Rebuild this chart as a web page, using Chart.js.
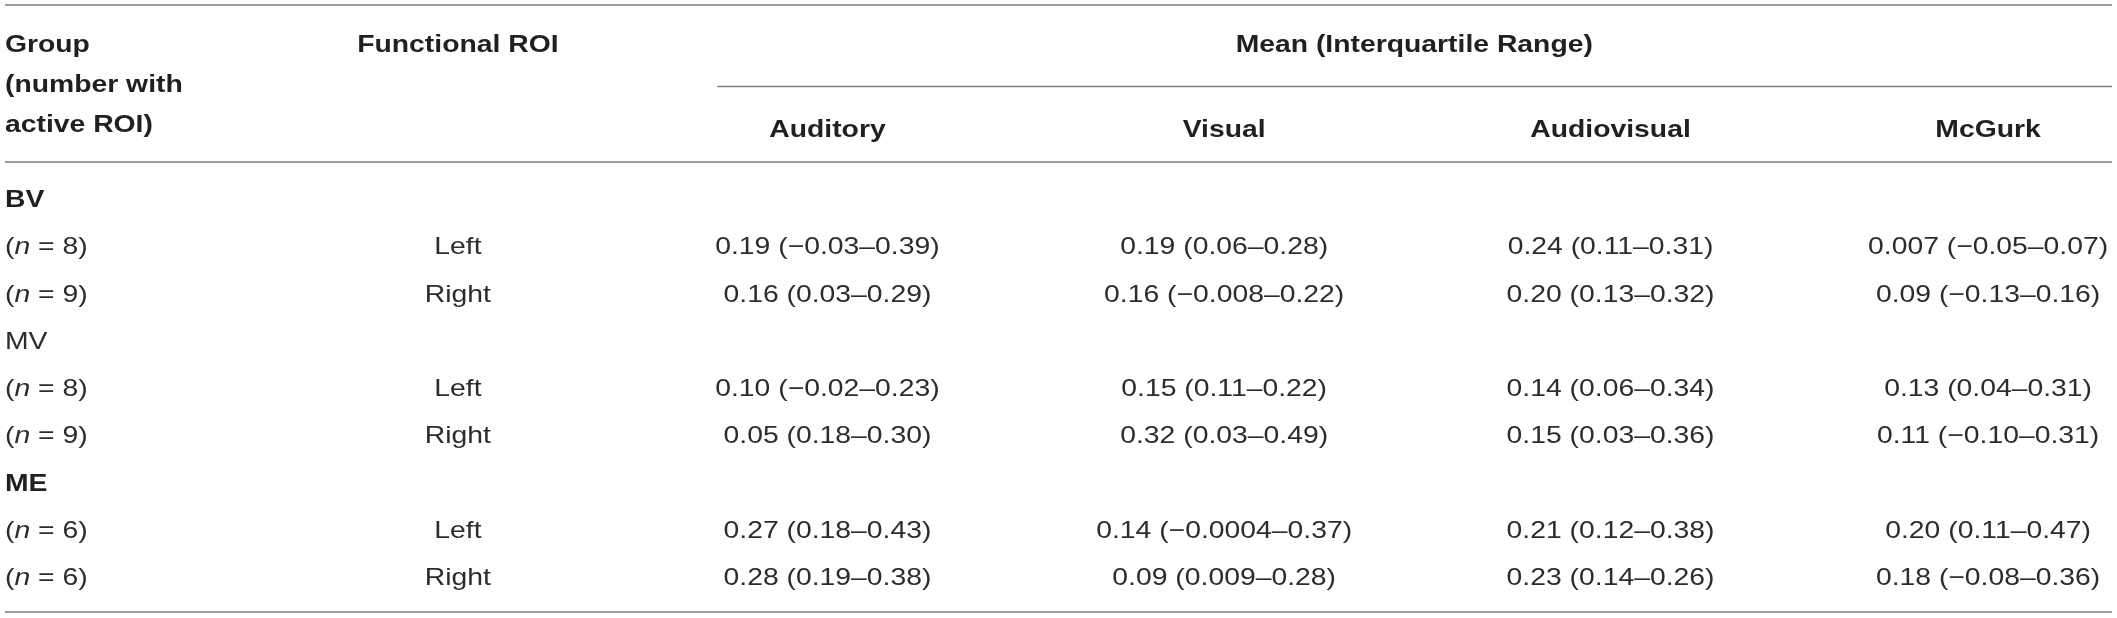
<!DOCTYPE html>
<html>
<head>
<meta charset="utf-8">
<title>Mean (Interquartile Range) by group and functional ROI</title>
<script src="https://cdn.jsdelivr.net/npm/chart.js@4.4.1/dist/chart.umd.min.js"></script>
<style>
  html, body { margin: 0; padding: 0; background: #ffffff; }
  canvas { display: block; }
</style>
</head>
<body>
<canvas id="tableChart" width="2117" height="618"></canvas>
<script>
  // table content
  const groups = ['BV', 'MV', 'ME'];
  const groupBold = [true, false, true];
  const groupN = ['8', '9', '8', '9', '6', '6'];
  const rois = ['Left', 'Right', 'Left', 'Right', 'Left', 'Right'];
  const conditions = ['Auditory', 'Visual', 'Audiovisual', 'McGurk'];
  const auditory = ['0.19 (−0.03–0.39)', '0.16 (0.03–0.29)', '0.10 (−0.02–0.23)', '0.05 (0.18–0.30)', '0.27 (0.18–0.43)', '0.28 (0.19–0.38)'];
  const visual = ['0.19 (0.06–0.28)', '0.16 (−0.008–0.22)', '0.15 (0.11–0.22)', '0.32 (0.03–0.49)', '0.14 (−0.0004–0.37)', '0.09 (0.009–0.28)'];
  const audiovisual = ['0.24 (0.11–0.31)', '0.20 (0.13–0.32)', '0.14 (0.06–0.34)', '0.15 (0.03–0.36)', '0.21 (0.12–0.38)', '0.23 (0.14–0.26)'];
  const mcgurk = ['0.007 (−0.05–0.07)', '0.09 (−0.13–0.16)', '0.13 (0.04–0.31)', '0.11 (−0.10–0.31)', '0.20 (0.11–0.47)', '0.18 (−0.08–0.36)'];
  const groupHeader = ['Group', '(number with', 'active ROI)'];
  const roiHeader = 'Functional ROI';
  const spanHeader = 'Mean (Interquartile Range)';

  // layout (column index / row index on the hidden scales)
  const FONT = '"Liberation Sans", Arial, Helvetica, sans-serif';
  const FONT_PX = 24;
  const STRETCH = 1.18;
  const TEXT = '#231f20';
  const TEXT_LIGHT = '#2e2b2c';
  const RULE = '#7d7d7d';
  const GROUP_X = -0.184;
  const COLUMN_X = [1, 1.966, 3.003, 4.013, 5];
  const HEADER_ROWS = [-3.281, -2.434, -1.587];
  const SUB_HEADER_Y = -1.482;
  const rules = [
    { from: -0.184, to: 5.324, y: -4.275 },
    { from: 1.678, to: 5.324, y: -2.55 },
    { from: -0.184, to: 5.324, y: -0.952 },
    { from: -0.184, to: 5.324, y: 8.571 },
  ];

  // body rows: a group title row followed by two data rows per group
  const groupRow = (g) => g * 3;
  const dataRow = (i) => Math.floor(i / 2) * 3 + 1 + (i % 2);

  function seg(t, style, weight) {
    return { t, style: style || 'normal', weight: weight || 'normal' };
  }

  const headerCells = [
    ...groupHeader.map((t, i) => ({ x: GROUP_X, y: HEADER_ROWS[i], align: 'left', parts: [seg(t, 'normal', 'bold')] })),
    { x: COLUMN_X[0], y: HEADER_ROWS[0], align: 'center', parts: [seg(roiHeader, 'normal', 'bold')] },
    { x: 3.5, y: HEADER_ROWS[0], align: 'center', parts: [seg(spanHeader, 'normal', 'bold')] },
    ...conditions.map((t, i) => ({ x: COLUMN_X[i + 1], y: SUB_HEADER_Y, align: 'center', parts: [seg(t, 'normal', 'bold')] })),
  ];

  const groupCells = groups.map((g, i) => ({
    x: GROUP_X, y: groupRow(i), align: 'left', parts: [seg(g, 'normal', groupBold[i] ? 'bold' : 'normal')],
  }));

  const nCells = groupN.map((n, i) => ({
    x: GROUP_X, y: dataRow(i), align: 'left', parts: [seg('('), seg('n', 'italic'), seg(' = ' + n + ')')],
  }));

  function columnCells(values, col) {
    return values.map((v, i) => ({ x: COLUMN_X[col], y: dataRow(i), align: 'center', parts: [seg(v)] }));
  }

  const cellSets = [
    headerCells,
    groupCells,
    nCells,
    columnCells(rois, 0),
    columnCells(auditory, 1),
    columnCells(visual, 2),
    columnCells(audiovisual, 3),
    columnCells(mcgurk, 4),
  ];

  function drawCell(ctx, x, y, cell) {
    ctx.save();
    ctx.translate(x, y);
    ctx.scale(STRETCH, 1);
    ctx.textBaseline = 'alphabetic';
    ctx.textAlign = 'left';
    let width = 0;
    cell.parts.forEach((p) => {
      ctx.font = `${p.style} ${p.weight} ${FONT_PX}px ${FONT}`;
      width += ctx.measureText(p.t).width;
    });
    let cursor = cell.align === 'center' ? -width / 2 : 0;
    cell.parts.forEach((p) => {
      ctx.font = `${p.style} ${p.weight} ${FONT_PX}px ${FONT}`;
      ctx.fillStyle = p.weight === 'bold' ? TEXT : TEXT_LIGHT;
      ctx.fillText(p.t, cursor, 0);
      cursor += ctx.measureText(p.t).width;
    });
    ctx.restore();
  }

  const cellText = {
    id: 'cellText',
    afterDatasetsDraw(chart) {
      const ctx = chart.ctx;
      chart.data.datasets.forEach((ds, di) => {
        if (!ds.isCells) {
          return;
        }
        const meta = chart.getDatasetMeta(di);
        meta.data.forEach((pt, i) => drawCell(ctx, pt.x, pt.y, ds.data[i]));
      });
    },
  };

  const ruleDatasets = rules.map((r) => ({
    type: 'line',
    data: [{ x: r.from, y: r.y }, { x: r.to, y: r.y }],
    borderColor: RULE,
    borderWidth: 1.6,
    pointRadius: 0,
    fill: false,
  }));

  const cellDatasets = cellSets.map((cells) => ({
    type: 'scatter',
    isCells: true,
    data: cells,
    pointRadius: 0,
    pointHoverRadius: 0,
  }));

  new Chart(document.getElementById('tableChart'), {
    type: 'scatter',
    data: { datasets: [...ruleDatasets, ...cellDatasets] },
    options: {
      responsive: false,
      devicePixelRatio: 1,
      animation: false,
      events: [],
      layout: { padding: 0 },
      plugins: { legend: { display: false }, tooltip: { enabled: false } },
      scales: {
        x: { type: 'linear', display: false, min: -0.197, max: 5.337 },
        y: { type: 'linear', display: false, reverse: true, min: -4.381, max: 8.698 },
      },
    },
    plugins: [cellText],
  });
</script>
</body>
</html>
